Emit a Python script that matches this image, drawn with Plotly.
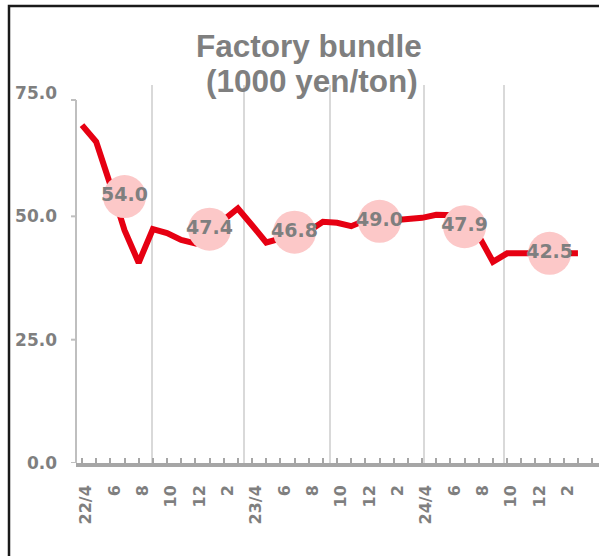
import plotly.graph_objects as go

# ---------------- data ----------------
months = ["22/4", "22/5", "22/6", "22/7", "22/8", "22/9", "22/10", "22/11", "22/12",
          "23/1", "23/2", "23/3", "23/4", "23/5", "23/6", "23/7", "23/8", "23/9",
          "23/10", "23/11", "23/12", "24/1", "24/2", "24/3", "24/4", "24/5", "24/6",
          "24/7", "24/8", "24/9", "24/10", "24/11", "24/12", "25/1", "25/2", "25/3"]
prices = [68.5, 65.1, 56.4, 47.2, 40.6, 47.4, 46.6, 45.2, 44.5,
          47.2, 49.3, 51.6, 48.2, 44.7, 45.5, 46.5, 47.0, 48.9,
          48.7, 48.0, 49.2, 49.6, 49.2, 49.3, 49.7, 50.3, 50.4,
          50.2, 46.0, 40.8, 42.5, 42.5, 42.5, 42.5, 42.5, 42.5]
half_avg_month = ["22/7", "23/1", "23/7", "24/1", "24/7", "25/1"]
half_avg_value = [54.0, 47.4, 46.8, 49.0, 47.9, 42.5]
tick_labels = ["22/4", "6", "8", "10", "12", "2", "23/4", "6", "8", "10", "12", "2",
               "24/4", "6", "8", "10", "12", "2"]
y_ticks = [0, 25, 50, 75]
title_lines = ["Factory bundle", "(1000 yen/ton)"]

# ---------------- layout geometry (pixels) ----------------
W, H = 599, 556
L, R, T, B = 76, 0, 85, 93
PW, PH = W - L - R, H - T - B
X0PX, STEP = 82.0, 14.17      # pixel of first month, px per month
YPX0, PXU = 463.0, 4.933      # pixel of value 0, px per unit

def px2paper_x(px):
    return (px - L) / PW

def py2paper_y(py):
    return (H - B - py) / PH

x_idx = list(range(len(months)))
avg_idx = [months.index(m) for m in half_avg_month]

x_range = [(L - X0PX) / STEP, (W - R - X0PX) / STEP]
y_range = [0, (YPX0 - T) / PXU]

GRAY = "#7f7f7f"
RED = "#e60012"
PINK = "#fcc8c8"

fig = go.Figure()
fig.add_trace(go.Scatter(
    x=x_idx, y=prices, mode="lines",
    line=dict(color=RED, width=6), hoverinfo="skip", showlegend=False))
fig.add_trace(go.Scatter(
    x=avg_idx, y=half_avg_value, mode="markers+text",
    marker=dict(size=43, color=PINK, line=dict(width=0)),
    text=[f"{v:.1f}" for v in half_avg_value], textposition="middle center",
    textfont=dict(family="DejaVu Sans", size=19, color=GRAY, weight="bold"),
    hoverinfo="skip", showlegend=False))

shapes = []
# vertical grid lines (pixel positions in reference)
for gx in [152, 244, 330, 424, 504]:
    shapes.append(dict(type="line", xref="paper", yref="paper",
                       x0=px2paper_x(gx), x1=px2paper_x(gx), y0=0, y1=1,
                       line=dict(color="#d9d9d9", width=2), layer="below"))
# y axis line and ticks
y_top_val = (YPX0 - 100) / PXU
shapes.append(dict(type="line", xref="paper", yref="y", x0=0, x1=0, y0=0, y1=y_top_val,
                   line=dict(color="#bfbfbf", width=2)))
for tv in [0, 25, 50, y_top_val]:
    shapes.append(dict(type="line", xref="paper", yref="y", x0=-5 / PW, x1=0, y0=tv, y1=tv,
                       line=dict(color="#bfbfbf", width=2)))
# outer frame
shapes.append(dict(type="rect", xref="paper", yref="paper",
                   x0=px2paper_x(9), x1=px2paper_x(640), y0=py2paper_y(600), y1=py2paper_y(6),
                   line=dict(color="#1a1a1a", width=2.5), fillcolor="rgba(0,0,0,0)"))

annotations = []
for txt, cx, cy in [(title_lines[0], 308.5, 45.6), (title_lines[1], 312, 80.6)]:
    annotations.append(dict(text=txt, xref="paper", yref="paper",
                            x=px2paper_x(cx), y=py2paper_y(cy),
                            xanchor="center", yanchor="middle", showarrow=False,
                            font=dict(family="Liberation Sans", size=31.5, color=GRAY, weight="bold")))

fig.update_layout(
    width=W, height=H, margin=dict(l=L, r=R, t=T, b=B),
    paper_bgcolor="white", plot_bgcolor="white",
    shapes=shapes, annotations=annotations,
    xaxis=dict(range=x_range, tickmode="array",
               tickvals=list(range(0, len(months) + 1)),
               ticktext=[tick_labels[i // 2] if i % 2 == 0 and i // 2 < len(tick_labels) else ""
                         for i in range(0, len(months) + 1)],
               tickangle=-90, ticks="inside", ticklen=5, tickwidth=2, tickcolor="#a6a6a6",
               showline=True, linecolor="#a6a6a6", linewidth=3.5,
               showgrid=False, zeroline=False, ticklabelstandoff=12, ticklabelshift=4,
               tickfont=dict(family="DejaVu Sans", size=16, color=GRAY, weight="bold")),
    yaxis=dict(range=y_range, tickmode="array", tickvals=y_ticks,
               ticktext=[f"{v:.1f}" for v in y_ticks], ticks="",
               showline=False, showgrid=False, zeroline=False, ticklabelstandoff=18,
               tickfont=dict(family="DejaVu Sans", size=17, color=GRAY, weight="bold")),
)

fig.write_html("out.html", config={"displayModeBar": False},
               post_script="document.body.style.margin='0px';")
